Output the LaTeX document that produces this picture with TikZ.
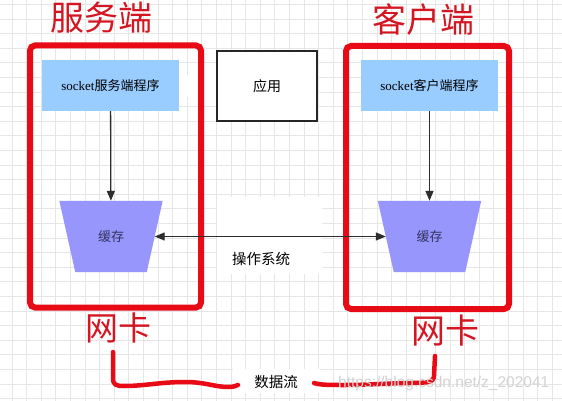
\documentclass[tikz,border=0pt]{standalone}
\usepackage{fontspec}
\setmainfont{Liberation Serif}
\newfontfamily\cjk{Noto Sans CJK SC}
\newfontfamily\wmfont{Liberation Sans}
\usetikzlibrary{arrows.meta}
\definecolor{nred}{RGB}{232,10,20}
\definecolor{tred}{RGB}{212,22,34}
\definecolor{lblue}{RGB}{153,204,255}
\definecolor{tpurp}{RGB}{150,150,252}
\definecolor{dgray}{RGB}{45,45,45}
\definecolor{gridc}{RGB}{230,230,230}
\definecolor{buftext}{RGB}{50,50,95}
\begin{document}
\begin{tikzpicture}[x=1pt,y=-1pt,
  gridline/.style={draw=gridc,line width=0.7pt},
  redbox/.style={draw=nred,line width=6pt,rounded corners=5pt,inner sep=0pt},
  title/.style={text=tred,font=\cjk\fontsize{34}{36}\selectfont,inner sep=0pt},
  prog/.style={fill=lblue,minimum width=137pt,minimum height=51pt,inner sep=0pt,font=\fontsize{13}{15}\selectfont},
  appbox/.style={draw=black!85,fill=white,line width=1.5pt,minimum width=100pt,minimum height=70pt,inner sep=0pt,font=\cjk\fontsize{14}{16}\selectfont},
  buf/.style={minimum width=87pt,minimum height=71pt,inner sep=0pt,font=\cjk\fontsize{13}{15}\selectfont,text=buftext},
  buffill/.style={fill=tpurp},
  arr/.style={draw=dgray,line width=1.3pt,-{Triangle[length=10pt,width=8pt]}},
  darr/.style={draw=dgray,line width=1.1pt,{Triangle[length=10pt,width=8pt]}-{Triangle[length=10pt,width=8pt]}},
  lbl/.style={font=\cjk\fontsize{14.5}{16}\selectfont,inner sep=0pt,text=black},
  patch/.style={fill=white,draw=none},
  wire/.style={draw=nred,line width=4.5pt,line cap=round,line join=round}
]
\useasboundingbox (0,0) rectangle (562,401);
\clip (0,0) rectangle (562,401);
\fill[white] (0,0) rectangle (562,401);
% grid
\foreach \i in {0,...,38} {\draw[gridline] ({12+14.6*\i},0) -- ({12+14.6*\i},401);}
\foreach \j in {0,...,27} {\draw[gridline] (0,{4.4+14.6*\j}) -- (562,{4.4+14.6*\j});}
% white patches
\fill[patch] (178,75) rectangle (217,97);
\fill[patch] (217,197) rectangle (322,274);
\fill[patch] (233,369) rectangle (320,393);
% titles
\node[title] (tsrv) at (101,18) {服务端};
\node[title] (tcli) at (423,20) {客户端};
% red boxes
\node[redbox,minimum width=171pt,minimum height=262pt] (srv) at (115.5,176.5) {};
\node[redbox,minimum width=163pt,minimum height=263pt] (cli) at (427.5,177.5) {};
% programs
\node[prog] (srvp) at (110.5,85.5) {socket{\cjk 服务端程序}};
\node[prog] (clip) at (429.5,85.5) {socket{\cjk 客户端程序}};
\node[appbox] (app) at (267,86) {应用};
% buffers (trapezoids drawn round their nodes)
\node[buf] (srvbuf) at (111,236.5) {};
\node[buf] (clibuf) at (429.5,236.5) {};
\foreach \b in {srvbuf,clibuf} {
  \fill[buffill] ([xshift=-8pt]\b.north west) -- ([xshift=8pt]\b.north east)
    -- ([xshift=-8pt]\b.south east) -- ([xshift=8pt]\b.south west) -- cycle;
}
\node[buf] at (srvbuf) {缓存};
\node[buf] at (clibuf) {缓存};
% arrows
\draw[arr] (srvp) -- (srvbuf);
\draw[arr] (clip) -- (clibuf);
\draw[darr] (srvbuf) -- (clibuf);
\node[lbl] (os) at (261,259) {操作系统};
% NIC labels
\node[title,font=\cjk\fontsize{33}{35}\selectfont] (nkl) at (118,328) {网卡};
\node[title,font=\cjk\fontsize{34}{36}\selectfont] (nkr) at (445,331) {网卡};
\node[lbl] (flow) at (276,382.5) {数据流};
% hand drawn data flow wire
\coordinate (wl0) at (113,352);
\coordinate (wl1) at (238,385);
\coordinate (wr0) at (314,383);
\coordinate (wr1) at (435,356);
\draw[wire] (wl0) -- (113,378) .. controls (113,385) and (116,386) .. (124,386)
  .. controls (145,386) and (160,382) .. (185,382)
  .. controls (205,382) and (215,387) .. (228,387)
  .. controls (233,387) and (236,386) .. (wl1);
\draw[wire] (wr0) .. controls (320,385) and (330,385) .. (345,385)
  .. controls (370,385) and (390,383) .. (410,383)
  .. controls (425,383) and (434,383) .. (434,376) -- (wr1);
% watermark
\node[font=\wmfont\fontsize{15.5}{17}\selectfont,text=gray!35,anchor=west,inner sep=0pt] (wm) at (338,383) {https://blog.csdn.net/z\_202041};
\end{tikzpicture}
\end{document}
